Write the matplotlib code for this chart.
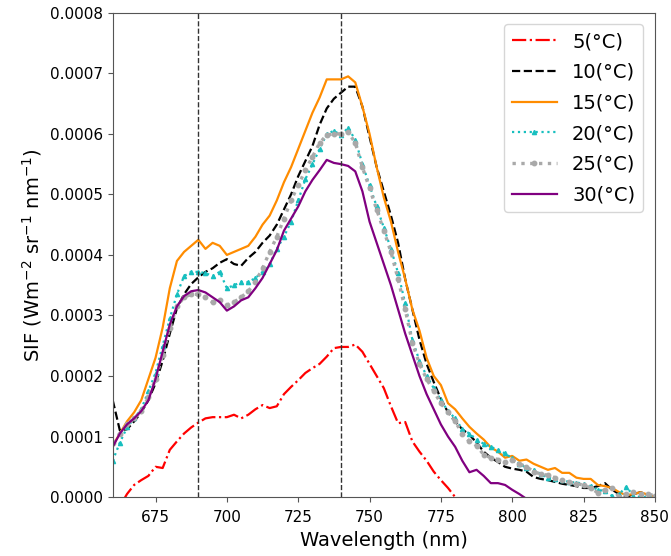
import numpy as np
import matplotlib
matplotlib.use("Agg")
import matplotlib.pyplot as plt

wavelength = np.arange(660, 850.01, 2.5)

# SIF values in units of 1e-4 W m-2 sr-1 nm-1
sif_5 = [-0.4, -0.15, 0.05, 0.2, 0.28, 0.35, 0.5, 0.48, 0.78, 0.92,
         1.05, 1.15, 1.23, 1.3, 1.32, 1.32, 1.32, 1.36, 1.3, 1.36,
         1.45, 1.52, 1.47, 1.5, 1.7, 1.82, 1.93, 2.05, 2.13, 2.2,
         2.32, 2.46, 2.48, 2.48, 2.52, 2.4, 2.2, 2.0, 1.8, 1.5,
         1.22, 1.24, 0.92, 0.75, 0.6, 0.42, 0.28, 0.15, 0.0, -0.15,
         np.nan, np.nan, np.nan, np.nan, np.nan, np.nan, np.nan, np.nan, np.nan, np.nan,
         np.nan, np.nan, np.nan, np.nan, np.nan, np.nan, np.nan, np.nan, np.nan, np.nan,
         np.nan, np.nan, np.nan, np.nan, np.nan, np.nan, np.nan]
sif_10 = [1.6, 1.1, 1.12, 1.25, 1.4, 1.6, 1.88, 2.25, 2.7, 3.12,
          3.35, 3.52, 3.63, 3.72, 3.78, 3.87, 3.93, 3.85, 3.82, 3.95,
          4.05, 4.2, 4.32, 4.5, 4.75, 5.0, 5.3, 5.55, 5.8, 6.15,
          6.42, 6.58, 6.68, 6.78, 6.78, 6.45, 5.95, 5.45, 5.05, 4.65,
          4.2, 3.6, 3.1, 2.6, 2.2, 1.9, 1.62, 1.4, 1.25, 1.12,
          1.03, 0.9, 0.75, 0.65, 0.58, 0.5, 0.47, 0.45, 0.42, 0.33,
          0.3, 0.28, 0.25, 0.22, 0.2, 0.18, 0.15, 0.15, 0.18, 0.23,
          0.12, 0.05, 0.0, 0.05, 0.08, 0.03, 0.0]
sif_15 = [0.85, 1.05, 1.25, 1.4, 1.6, 1.95, 2.3, 2.8, 3.45, 3.9,
          4.05, 4.15, 4.25, 4.1, 4.2, 4.15, 4.0, 4.05, 4.1, 4.15,
          4.3, 4.5, 4.65, 4.9, 5.2, 5.45, 5.75, 6.05, 6.35, 6.6,
          6.9, 6.9, 6.9, 6.95, 6.85, 6.45, 6.0, 5.45, 4.95, 4.55,
          4.05, 3.6, 3.1, 2.75, 2.3, 2.0, 1.85, 1.55, 1.45, 1.3,
          1.16, 1.05, 0.95, 0.82, 0.75, 0.65, 0.68, 0.6, 0.62, 0.55,
          0.5, 0.45, 0.48, 0.4, 0.4, 0.32, 0.3, 0.3, 0.2, 0.18,
          0.15, 0.08, 0.03, 0.05, 0.08, 0.04, 0.0]
sif_20 = [0.6, 0.9, 1.15, 1.3, 1.45, 1.75, 2.05, 2.5, 2.95, 3.35,
          3.65, 3.72, 3.72, 3.7, 3.65, 3.72, 3.45, 3.5, 3.55, 3.55,
          3.62, 3.72, 3.85, 4.1, 4.3, 4.55, 4.9, 5.25, 5.5, 5.75,
          6.0, 6.05, 5.98, 6.1, 5.9, 5.5, 5.15, 4.8, 4.45, 4.1,
          3.7, 3.2, 2.6, 2.25, 2.0, 1.8, 1.6, 1.42, 1.3, 1.12,
          1.05, 0.95, 0.88, 0.83, 0.78, 0.72, 0.64, 0.55, 0.48, 0.45,
          0.38, 0.32, 0.3, 0.28, 0.25, 0.24, 0.22, 0.18, 0.12, 0.1,
          0.02, 0.05, 0.17, 0.02, 0.0, 0.0, 0.0]
sif_25 = [0.9, 1.05, 1.2, 1.3, 1.42, 1.65, 1.95, 2.35, 2.8, 3.15,
          3.3, 3.35, 3.35, 3.3, 3.22, 3.25, 3.17, 3.22, 3.3, 3.4,
          3.55, 3.78, 4.05, 4.3, 4.6, 4.9, 5.15, 5.4, 5.62, 5.85,
          5.98, 6.0, 6.0, 6.03, 5.85, 5.45, 5.1, 4.75, 4.4, 4.05,
          3.6, 3.1, 2.55, 2.2, 1.95, 1.75, 1.55, 1.4, 1.25, 1.05,
          0.92, 0.85, 0.7, 0.65, 0.62, 0.58, 0.61, 0.55, 0.5, 0.42,
          0.38, 0.36, 0.32, 0.28, 0.25, 0.22, 0.2, 0.15, 0.07, 0.12,
          0.15, 0.0, 0.05, 0.08, 0.05, 0.05, 0.02]
sif_30 = [0.83, 1.05, 1.2, 1.3, 1.42, 1.6, 1.95, 2.4, 2.85, 3.15,
          3.32, 3.4, 3.42, 3.38, 3.3, 3.22, 3.08, 3.15, 3.25, 3.3,
          3.45, 3.62, 3.85, 4.08, 4.4, 4.6, 4.8, 5.05, 5.24, 5.4,
          5.57, 5.52, 5.5, 5.47, 5.38, 5.05, 4.55, 4.2, 3.85, 3.5,
          3.1, 2.7, 2.35, 2.0, 1.7, 1.45, 1.2, 1.0, 0.83, 0.6,
          0.41, 0.45, 0.35, 0.23, 0.23, 0.2, 0.12, 0.05, -0.03, np.nan,
          np.nan, np.nan, np.nan, np.nan, np.nan, np.nan, np.nan, np.nan, np.nan, np.nan,
          np.nan, np.nan, np.nan, np.nan, np.nan, np.nan, np.nan]

labels = ["5(°C)", "10(°C)", "15(°C)", "20(°C)", "25(°C)", "30(°C)"]
ref_lines = [690, 740]
xticks = [675, 700, 725, 750, 775, 800, 825, 850]
yticks = [0.0, 0.0001, 0.0002, 0.0003, 0.0004, 0.0005, 0.0006, 0.0007, 0.0008]

scale = 1e-4
fig = plt.figure(figsize=(6.71, 5.56), dpi=100)
ax = fig.add_axes([0.168, 0.106, 0.808, 0.871])

ax.plot(wavelength, np.array(sif_5) * scale, color="red", ls="-.", lw=1.6, label=labels[0])
ax.plot(wavelength, np.array(sif_10) * scale, color="black", ls="--", lw=1.6, label=labels[1])
ax.plot(wavelength, np.array(sif_15) * scale, color="darkorange", ls="-", lw=1.6, label=labels[2])
ax.plot(wavelength, np.array(sif_20) * scale, color="#17bfbf", ls=":", lw=1.6,
        marker="^", ms=3, label=labels[3])
ax.plot(wavelength, np.array(sif_25) * scale, color="darkgray", ls=":", lw=2.4,
        marker="o", ms=3.2, label=labels[4])
ax.plot(wavelength, np.array(sif_30) * scale, color="purple", ls="-", lw=1.6, label=labels[5])

for xv in ref_lines:
    ax.axvline(xv, color="#333333", ls="--", lw=1.0)

ax.set_xlim(660, 850)
ax.set_ylim(0, 0.0008)
ax.set_xticks(xticks)
ax.set_yticks(yticks)
ax.set_yticklabels([f"{v:.4f}" for v in yticks])
ax.tick_params(labelsize=11, color="#555555")
ax.tick_params(axis="x", pad=6)
for sp in ax.spines.values():
    sp.set_color("#555555")
ax.set_xlabel("Wavelength (nm)", fontsize=14, labelpad=4)
ax.set_ylabel("SIF (Wm$^{-2}$ sr$^{-1}$ nm$^{-1}$)", fontsize=14)

ax.legend(loc="upper right", fontsize=14, handlelength=2.3, labelspacing=0.6,
          borderaxespad=0.6)

fig.savefig("out.png", dpi=100)
